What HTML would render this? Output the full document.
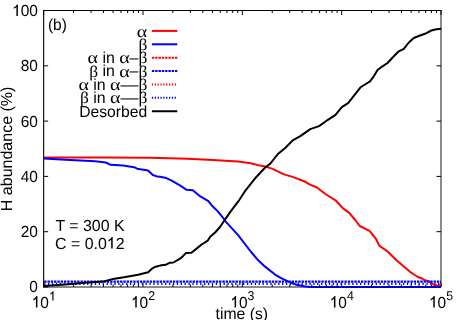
<!DOCTYPE html>
<html><head><meta charset="utf-8"><title>chart</title>
<style>html,body{margin:0;padding:0;background:#fff;}svg{display:block}text{font-family:"Liberation Sans",sans-serif;fill:#000;text-rendering:geometricPrecision}.g{font-family:"Liberation Serif",serif}</style>
</head><body>
<svg width="457" height="320" viewBox="0 0 457 320" style="will-change:transform">
<rect width="457" height="320" fill="#fff"/>
<path d="M43.65,287.5 L43.65,10.5 L441.5,10.5" fill="none" stroke="#000" stroke-width="1.1"/>
<path d="M441.0,10.5 L441.0,287.0 L43.65,287.0" fill="none" stroke="#161616" stroke-width="1"/>
<g stroke="#000" stroke-width="1" fill="none">
<line x1="43.65" y1="287.00" x2="48.15" y2="287.00"/>
<line x1="441.0" y1="287.00" x2="436.5" y2="287.00"/>
<line x1="43.65" y1="231.70" x2="48.15" y2="231.70"/>
<line x1="441.0" y1="231.70" x2="436.5" y2="231.70"/>
<line x1="43.65" y1="176.40" x2="48.15" y2="176.40"/>
<line x1="441.0" y1="176.40" x2="436.5" y2="176.40"/>
<line x1="43.65" y1="121.10" x2="48.15" y2="121.10"/>
<line x1="441.0" y1="121.10" x2="436.5" y2="121.10"/>
<line x1="43.65" y1="65.80" x2="48.15" y2="65.80"/>
<line x1="441.0" y1="65.80" x2="436.5" y2="65.80"/>
<line x1="43.65" y1="10.50" x2="48.15" y2="10.50"/>
<line x1="441.0" y1="10.50" x2="436.5" y2="10.50"/>
<line x1="43.65" y1="287.0" x2="43.65" y2="282.5"/>
<line x1="43.65" y1="10.5" x2="43.65" y2="15.0"/>
<line x1="73.55" y1="287.0" x2="73.55" y2="284.5"/>
<line x1="73.55" y1="10.5" x2="73.55" y2="13.0"/>
<line x1="91.05" y1="287.0" x2="91.05" y2="284.5"/>
<line x1="91.05" y1="10.5" x2="91.05" y2="13.0"/>
<line x1="103.46" y1="287.0" x2="103.46" y2="284.5"/>
<line x1="103.46" y1="10.5" x2="103.46" y2="13.0"/>
<line x1="113.08" y1="287.0" x2="113.08" y2="284.5"/>
<line x1="113.08" y1="10.5" x2="113.08" y2="13.0"/>
<line x1="120.95" y1="287.0" x2="120.95" y2="284.5"/>
<line x1="120.95" y1="10.5" x2="120.95" y2="13.0"/>
<line x1="127.60" y1="287.0" x2="127.60" y2="284.5"/>
<line x1="127.60" y1="10.5" x2="127.60" y2="13.0"/>
<line x1="133.36" y1="287.0" x2="133.36" y2="284.5"/>
<line x1="133.36" y1="10.5" x2="133.36" y2="13.0"/>
<line x1="138.44" y1="287.0" x2="138.44" y2="284.5"/>
<line x1="138.44" y1="10.5" x2="138.44" y2="13.0"/>
<line x1="142.99" y1="287.0" x2="142.99" y2="282.5"/>
<line x1="142.99" y1="10.5" x2="142.99" y2="15.0"/>
<line x1="172.89" y1="287.0" x2="172.89" y2="284.5"/>
<line x1="172.89" y1="10.5" x2="172.89" y2="13.0"/>
<line x1="190.38" y1="287.0" x2="190.38" y2="284.5"/>
<line x1="190.38" y1="10.5" x2="190.38" y2="13.0"/>
<line x1="202.79" y1="287.0" x2="202.79" y2="284.5"/>
<line x1="202.79" y1="10.5" x2="202.79" y2="13.0"/>
<line x1="212.42" y1="287.0" x2="212.42" y2="284.5"/>
<line x1="212.42" y1="10.5" x2="212.42" y2="13.0"/>
<line x1="220.29" y1="287.0" x2="220.29" y2="284.5"/>
<line x1="220.29" y1="10.5" x2="220.29" y2="13.0"/>
<line x1="226.94" y1="287.0" x2="226.94" y2="284.5"/>
<line x1="226.94" y1="10.5" x2="226.94" y2="13.0"/>
<line x1="232.70" y1="287.0" x2="232.70" y2="284.5"/>
<line x1="232.70" y1="10.5" x2="232.70" y2="13.0"/>
<line x1="237.78" y1="287.0" x2="237.78" y2="284.5"/>
<line x1="237.78" y1="10.5" x2="237.78" y2="13.0"/>
<line x1="242.33" y1="287.0" x2="242.33" y2="282.5"/>
<line x1="242.33" y1="10.5" x2="242.33" y2="15.0"/>
<line x1="272.23" y1="287.0" x2="272.23" y2="284.5"/>
<line x1="272.23" y1="10.5" x2="272.23" y2="13.0"/>
<line x1="289.72" y1="287.0" x2="289.72" y2="284.5"/>
<line x1="289.72" y1="10.5" x2="289.72" y2="13.0"/>
<line x1="302.13" y1="287.0" x2="302.13" y2="284.5"/>
<line x1="302.13" y1="10.5" x2="302.13" y2="13.0"/>
<line x1="311.76" y1="287.0" x2="311.76" y2="284.5"/>
<line x1="311.76" y1="10.5" x2="311.76" y2="13.0"/>
<line x1="319.62" y1="287.0" x2="319.62" y2="284.5"/>
<line x1="319.62" y1="10.5" x2="319.62" y2="13.0"/>
<line x1="326.27" y1="287.0" x2="326.27" y2="284.5"/>
<line x1="326.27" y1="10.5" x2="326.27" y2="13.0"/>
<line x1="332.04" y1="287.0" x2="332.04" y2="284.5"/>
<line x1="332.04" y1="10.5" x2="332.04" y2="13.0"/>
<line x1="337.12" y1="287.0" x2="337.12" y2="284.5"/>
<line x1="337.12" y1="10.5" x2="337.12" y2="13.0"/>
<line x1="341.66" y1="287.0" x2="341.66" y2="282.5"/>
<line x1="341.66" y1="10.5" x2="341.66" y2="15.0"/>
<line x1="371.57" y1="287.0" x2="371.57" y2="284.5"/>
<line x1="371.57" y1="10.5" x2="371.57" y2="13.0"/>
<line x1="389.06" y1="287.0" x2="389.06" y2="284.5"/>
<line x1="389.06" y1="10.5" x2="389.06" y2="13.0"/>
<line x1="401.47" y1="287.0" x2="401.47" y2="284.5"/>
<line x1="401.47" y1="10.5" x2="401.47" y2="13.0"/>
<line x1="411.10" y1="287.0" x2="411.10" y2="284.5"/>
<line x1="411.10" y1="10.5" x2="411.10" y2="13.0"/>
<line x1="418.96" y1="287.0" x2="418.96" y2="284.5"/>
<line x1="418.96" y1="10.5" x2="418.96" y2="13.0"/>
<line x1="425.61" y1="287.0" x2="425.61" y2="284.5"/>
<line x1="425.61" y1="10.5" x2="425.61" y2="13.0"/>
<line x1="431.37" y1="287.0" x2="431.37" y2="284.5"/>
<line x1="431.37" y1="10.5" x2="431.37" y2="13.0"/>
<line x1="436.45" y1="287.0" x2="436.45" y2="284.5"/>
<line x1="436.45" y1="10.5" x2="436.45" y2="13.0"/>
<line x1="441.00" y1="287.0" x2="441.00" y2="282.5"/>
<line x1="441.00" y1="10.5" x2="441.00" y2="15.0"/>
</g>
<polyline points="43.5,157.6 100.0,157.6 150.0,157.8 187.7,158.7 212.9,160.1 238.1,161.4 250.7,163.2 260.0,165.6 265.0,166.4 272.6,168.9 283.9,174.4 292.7,176.9 305.3,181.8 310.0,184.6 316.6,187.2 325.4,194.0 335.5,200.3 343.0,208.4 349.3,212.9 355.6,220.5 359.7,226.0 369.5,230.9 375.6,238.3 379.3,245.6 387.9,251.8 396.5,260.3 403.8,266.5 410.0,271.8 414.0,274.5 418.0,277.0 422.0,278.5 425.0,280.3 430.0,281.8 433.0,284.3 435.5,285.5 441.0,285.6" fill="none" stroke="#f00" stroke-width="2" stroke-linejoin="round"/>
<line x1="44.15" y1="281.7" x2="441.0" y2="281.7" stroke="#00f" stroke-width="2.2" stroke-dasharray="2.4 0.9"/>
<line x1="44.15" y1="283.9" x2="441.0" y2="283.9" stroke="#00f" stroke-width="2.2" stroke-dasharray="1.3 2.6"/>
<polyline points="43.5,158.6 70.2,160.1 90.3,161.1 95.0,161.3 105.9,162.5 110.6,164.8 123.1,165.6 134.1,167.2 137.2,168.7 148.1,170.6 152.8,175.0 157.5,176.6 160.0,176.8 166.3,178.1 171.7,180.6 180.3,185.6 186.6,189.8 192.8,190.2 199.1,195.6 208.4,201.2 211.6,205.2 217.8,211.4 224.1,219.2 225.5,221.3 238.1,235.1 250.7,251.5 258.2,260.3 264.8,266.4 274.7,274.3 280.6,277.9 288.5,281.6 296.4,284.7 304.2,286.3 310.0,286.9 316.0,286.9" fill="none" stroke="#00f" stroke-width="2" stroke-linejoin="round"/>
<line x1="312" y1="286.9" x2="441.0" y2="286.9" stroke="#0000c0" stroke-width="2"/>
<polyline points="43.8,286.1 65.2,284.6 85.3,282.8 102.9,281.6 113.0,279.0 125.6,277.0 138.1,274.8 148.2,272.2 150.0,270.5 152.8,268.1 155.7,266.7 160.0,265.6 165.6,264.8 169.5,262.8 173.4,262.5 181.3,257.8 185.9,253.1 191.4,252.8 196.9,248.4 201.6,244.5 207.8,240.6 210.2,236.7 215.6,232.0 220.0,227.0 225.5,218.8 230.5,211.7 238.1,201.7 245.6,190.3 255.7,177.7 260.0,173.0 265.0,167.7 270.1,163.8 275.1,157.5 277.6,154.3 285.2,148.0 292.7,140.4 300.3,136.1 310.3,129.1 319.1,126.1 327.9,119.8 335.5,114.8 341.8,107.2 348.1,103.2 354.4,95.1 360.7,87.1 365.0,84.5 370.0,81.3 373.8,76.3 377.5,70.0 382.5,66.3 387.5,63.0 393.8,56.3 398.8,51.3 403.8,48.8 408.8,42.5 413.8,38.0 420.0,35.5 425.0,33.8 431.3,30.5 436.3,29.3 441.3,28.8" fill="none" stroke="#000" stroke-width="2" stroke-linejoin="round"/>
<text transform="translate(37.90,292.40) scale(0.965,1)" font-size="16.0" text-anchor="end">0</text>
<text transform="translate(37.90,237.10) scale(0.965,1)" font-size="16.0" text-anchor="end">20</text>
<text transform="translate(37.90,181.80) scale(0.965,1)" font-size="16.0" text-anchor="end">40</text>
<text transform="translate(37.90,126.50) scale(0.965,1)" font-size="16.0" text-anchor="end">60</text>
<text transform="translate(37.90,71.20) scale(0.965,1)" font-size="16.0" text-anchor="end">80</text>
<text transform="translate(37.90,15.90) scale(0.965,1)" font-size="16.0" text-anchor="end">00</text>
<path d="M0.3725,0 L0.277,0 L0.277,0.555 Q0.21,0.49 0.109,0.445 L0.109,0.535 Q0.25,0.6 0.312,0.719 L0.3725,0.719 Z" transform="translate(12.14,15.90) scale(15.440,-16.000)" fill="#000"/>
<path d="M0.3725,0 L0.277,0 L0.277,0.555 Q0.21,0.49 0.109,0.445 L0.109,0.535 Q0.25,0.6 0.312,0.719 L0.3725,0.719 Z" transform="translate(31.65,307.60) scale(15.440,-16.000)" fill="#000"/>
<text transform="translate(40.24,307.60) scale(0.965,1)" font-size="16.0" text-anchor="start">0</text>
<path d="M0.3725,0 L0.277,0 L0.277,0.555 Q0.21,0.49 0.109,0.445 L0.109,0.535 Q0.25,0.6 0.312,0.719 L0.3725,0.719 Z" transform="translate(48.93,300.40) scale(12.352,-12.800)" fill="#000"/>
<path d="M0.3725,0 L0.277,0 L0.277,0.555 Q0.21,0.49 0.109,0.445 L0.109,0.535 Q0.25,0.6 0.312,0.719 L0.3725,0.719 Z" transform="translate(130.99,307.60) scale(15.440,-16.000)" fill="#000"/>
<text transform="translate(139.58,307.60) scale(0.965,1)" font-size="16.0" text-anchor="start">0<tspan dy="-7.2" dx="0.1" font-size="12.8">2</tspan></text>
<path d="M0.3725,0 L0.277,0 L0.277,0.555 Q0.21,0.49 0.109,0.445 L0.109,0.535 Q0.25,0.6 0.312,0.719 L0.3725,0.719 Z" transform="translate(230.33,307.60) scale(15.440,-16.000)" fill="#000"/>
<text transform="translate(238.91,307.60) scale(0.965,1)" font-size="16.0" text-anchor="start">0<tspan dy="-7.2" dx="0.1" font-size="12.8">3</tspan></text>
<path d="M0.3725,0 L0.277,0 L0.277,0.555 Q0.21,0.49 0.109,0.445 L0.109,0.535 Q0.25,0.6 0.312,0.719 L0.3725,0.719 Z" transform="translate(329.66,307.60) scale(15.440,-16.000)" fill="#000"/>
<text transform="translate(338.25,307.60) scale(0.965,1)" font-size="16.0" text-anchor="start">0<tspan dy="-7.2" dx="0.1" font-size="12.8">4</tspan></text>
<path d="M0.3725,0 L0.277,0 L0.277,0.555 Q0.21,0.49 0.109,0.445 L0.109,0.535 Q0.25,0.6 0.312,0.719 L0.3725,0.719 Z" transform="translate(429.00,307.60) scale(15.440,-16.000)" fill="#000"/>
<text transform="translate(437.59,307.60) scale(0.965,1)" font-size="16.0" text-anchor="start">0<tspan dy="-7.2" dx="0.1" font-size="12.8">5</tspan></text>
<text transform="translate(241.80,319.30) scale(0.985,1)" font-size="16.0" text-anchor="middle">time (s)</text>
<text transform="translate(12.3,148.9) rotate(-90) scale(1,0.995)" font-size="16.0" text-anchor="middle">H abundance (%)</text>
<text transform="translate(47.90,29.60) scale(0.97,1)" font-size="16.0" text-anchor="start">(b)</text>
<text transform="translate(55.40,231.10) scale(0.995,1)" font-size="16.0" text-anchor="start">T = 300 K</text>
<text transform="translate(55.00,248.60) scale(0.995,1)" font-size="16.0" text-anchor="start">C = 0.0</text>
<path d="M0.3725,0 L0.277,0 L0.277,0.555 Q0.21,0.49 0.109,0.445 L0.109,0.535 Q0.25,0.6 0.312,0.719 L0.3725,0.719 Z" transform="translate(106.77,248.60) scale(15.920,-16.000)" fill="#000"/>
<text transform="translate(115.63,248.60) scale(0.995,1)" font-size="16.0" text-anchor="start">2</text>
<text class="g" transform="translate(136.80,36.50) scale(1.19,1)" font-size="16.7">α</text>
<line x1="151.9" y1="30.90" x2="177.3" y2="30.90" stroke="#f00" stroke-width="2"/>
<text class="g" transform="translate(138.46,49.89) scale(1.08,1)" font-size="16.2">β</text>
<line x1="151.9" y1="44.29" x2="177.3" y2="44.29" stroke="#00f" stroke-width="2"/>
<text class="g" transform="translate(138.46,63.28) scale(1.08,1)" font-size="16.2">β</text>
<text transform="translate(129.61,63.08) scale(0.995,1)" font-size="16.0" xml:space="preserve">–</text>
<text class="g" transform="translate(119.21,63.28) scale(1.19,1)" font-size="16.7">α</text>
<text transform="translate(97.98,63.08) scale(0.995,1)" font-size="16.0" xml:space="preserve"> in </text>
<text class="g" transform="translate(87.58,63.28) scale(1.19,1)" font-size="16.7">α</text>
<line x1="151.9" y1="57.68" x2="177.3" y2="57.68" stroke="#f00" stroke-width="2" stroke-dasharray="2.4 0.9"/>
<text class="g" transform="translate(138.46,76.67) scale(1.08,1)" font-size="16.2">β</text>
<text transform="translate(129.61,76.47) scale(0.995,1)" font-size="16.0" xml:space="preserve">–</text>
<text class="g" transform="translate(119.21,76.67) scale(1.19,1)" font-size="16.7">α</text>
<text transform="translate(97.98,76.47) scale(0.995,1)" font-size="16.0" xml:space="preserve"> in </text>
<text class="g" transform="translate(89.24,76.67) scale(1.08,1)" font-size="16.2">β</text>
<line x1="151.9" y1="71.07" x2="177.3" y2="71.07" stroke="#00f" stroke-width="2" stroke-dasharray="2.4 0.9"/>
<text class="g" transform="translate(138.46,90.06) scale(1.08,1)" font-size="16.2">β</text>
<text transform="translate(120.47,89.86) scale(1.124,1)" font-size="16.0" xml:space="preserve">—</text>
<text class="g" transform="translate(110.07,90.06) scale(1.19,1)" font-size="16.7">α</text>
<text transform="translate(88.84,89.86) scale(0.995,1)" font-size="16.0" xml:space="preserve"> in </text>
<text class="g" transform="translate(78.44,90.06) scale(1.19,1)" font-size="16.7">α</text>
<line x1="151.9" y1="84.46" x2="177.3" y2="84.46" stroke="#f00" stroke-width="2" stroke-dasharray="1.25 1.6"/>
<text class="g" transform="translate(138.46,103.45) scale(1.08,1)" font-size="16.2">β</text>
<text transform="translate(120.47,103.25) scale(1.124,1)" font-size="16.0" xml:space="preserve">—</text>
<text class="g" transform="translate(110.07,103.45) scale(1.19,1)" font-size="16.7">α</text>
<text transform="translate(88.84,103.25) scale(0.995,1)" font-size="16.0" xml:space="preserve"> in </text>
<text class="g" transform="translate(80.10,103.45) scale(1.08,1)" font-size="16.2">β</text>
<line x1="151.9" y1="97.85" x2="177.3" y2="97.85" stroke="#00f" stroke-width="2" stroke-dasharray="1.25 1.6"/>
<text transform="translate(79.21,116.64) scale(0.980,1)" font-size="16.0" xml:space="preserve">Desorbed</text>
<line x1="151.9" y1="111.24" x2="177.3" y2="111.24" stroke="#000" stroke-width="2"/>
</svg>
</body></html>
